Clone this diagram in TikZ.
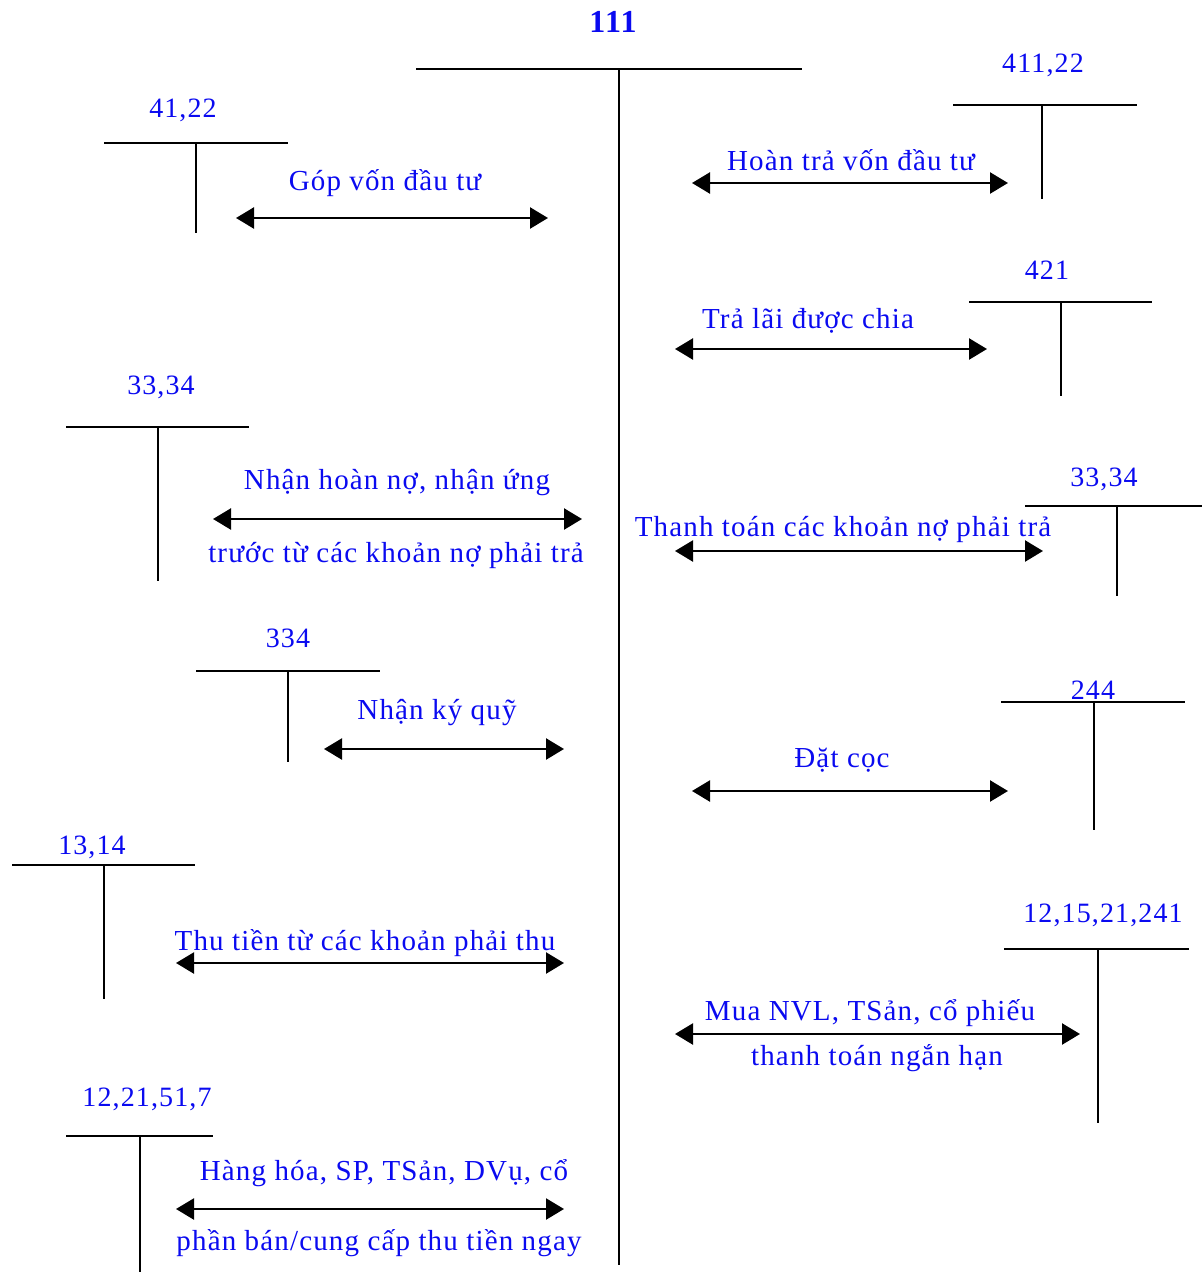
\documentclass[tikz,border=0pt]{standalone}
\usepackage{fontspec}
\setmainfont{Liberation Serif}[LetterSpace=4]
\usetikzlibrary{arrows.meta}
\definecolor{txtblue}{RGB}{10,10,240}
\tikzset{
  acct/.style={line width=2.4pt, black},
  flow/.style={line width=2.4pt, black, {Triangle[length=18pt,width=21pt]}-{Triangle[length=18pt,width=21pt]}},
  lbl/.style={text=txtblue, font=\fontsize{29}{32}\selectfont, inner sep=0pt, anchor=center},
  num/.style={text=txtblue, font=\fontsize{28}{31}\selectfont, inner sep=0pt, anchor=center},
}
% T-account: name, title, x-left, x-right, x-stem, y-bar, y-bottom, title x, title y
\newcommand{\taccount}[9]{%
  \node[num] (#1-t) at (#8,#9) {#2};
  \coordinate (#1-l) at (#3,#6);
  \coordinate (#1-r) at (#4,#6);
  \coordinate (#1-s) at (#5,#6);
  \coordinate (#1-b) at (#5,#7);
  \draw[acct] (#1-l) -- (#1-r);
  \draw[acct] (#1-s) -- (#1-b);
}
\begin{document}
\begin{tikzpicture}[x=1pt,y=-1pt]
\useasboundingbox (0,0) rectangle (1202,1272);

% central cash account
\node[text=txtblue, font=\fontsize{32}{34}\selectfont\bfseries, inner sep=0pt] (c111) at (613,22) {111};
\coordinate (c-l) at (416,69);
\coordinate (c-r) at (802,69);
\coordinate (c-s) at (619,69);
\coordinate (c-b) at (619,1265);
\draw[acct] (c-l) -- (c-r);
\draw[acct] (c-s) -- (c-b);

% left side
\taccount{a4122}{41,22}{104}{288}{196}{143}{233}{183}{110}
\coordinate (f1a) at (236,218); \coordinate (f1b) at (548,218);
\draw[flow] (f1a) -- (f1b);
\node[lbl] (f1t) at (385,183) {Góp vốn đầu tư};

\taccount{a3334l}{33,34}{66}{249}{158}{427}{581}{161}{387}
\coordinate (f3a) at (213,519); \coordinate (f3b) at (582,519);
\draw[flow] (f3a) -- (f3b);
\node[lbl] (f3t) at (397,483) {Nhận hoàn nợ, nhận ứng};
\node[lbl] (f3u) at (396,555) {trước từ các khoản nợ phải trả};

\taccount{a334}{334}{196}{380}{288}{671}{762}{288}{638}
\coordinate (f5a) at (324,749); \coordinate (f5b) at (564,749);
\draw[flow] (f5a) -- (f5b);
\node[lbl] (f5t) at (437,713) {Nhận ký quỹ};

\taccount{a1314}{13,14}{12}{195}{104}{865}{999}{92}{847}
\coordinate (f7a) at (176,963); \coordinate (f7b) at (564,963);
\draw[flow] (f7a) -- (f7b);
\node[lbl] (f7t) at (365,943) {Thu tiền từ các khoản phải thu};

\taccount{a1221}{12,21,51,7}{66}{213}{140}{1136}{1272}{147}{1099}
\coordinate (f9a) at (176,1209); \coordinate (f9b) at (564,1209);
\draw[flow] (f9a) -- (f9b);
\node[lbl] (f9t) at (384,1173) {Hàng hóa, SP, TSản, DVụ, cổ};
\node[lbl] (f9u) at (379,1243) {phần bán/cung cấp thu tiền ngay};

% right side
\taccount{a41122}{411,22}{953}{1137}{1042}{105}{199}{1043}{65}
\coordinate (f2a) at (692,183); \coordinate (f2b) at (1008,183);
\draw[flow] (f2a) -- (f2b);
\node[lbl] (f2t) at (851,160) {Hoàn trả vốn đầu tư};

\taccount{a421}{421}{969}{1152}{1061}{302}{396}{1047}{270}
\coordinate (f4a) at (675,349); \coordinate (f4b) at (987,349);
\draw[flow] (f4a) -- (f4b);
\node[lbl] (f4t) at (808,321) {Trả lãi được chia};

\taccount{a3334r}{33,34}{1025}{1202}{1117}{506}{596}{1104}{479}
\coordinate (f6a) at (675,551); \coordinate (f6b) at (1043,551);
\draw[flow] (f6a) -- (f6b);
\node[lbl] (f6t) at (843,529) {Thanh toán các khoản nợ phải trả};

\taccount{a244}{244}{1001}{1185}{1094}{702}{830}{1093}{690}
\coordinate (f8a) at (692,791); \coordinate (f8b) at (1008,791);
\draw[flow] (f8a) -- (f8b);
\node[lbl] (f8t) at (842,760) {Đặt cọc};

\taccount{a1215}{12,15,21,241}{1004}{1189}{1098}{949}{1123}{1103}{915}
\coordinate (f10a) at (675,1034); \coordinate (f10b) at (1080,1034);
\draw[flow] (f10a) -- (f10b);
\node[lbl] (f10t) at (870,1013) {Mua NVL, TSản, cổ phiếu};
\node[lbl] (f10u) at (877,1058) {thanh toán ngắn hạn};
\end{tikzpicture}
\end{document}
